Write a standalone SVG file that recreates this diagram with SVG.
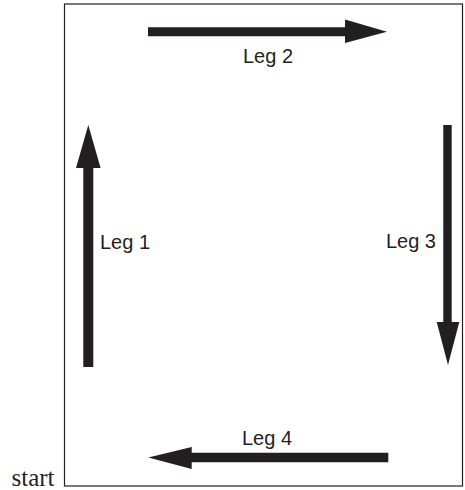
<svg xmlns="http://www.w3.org/2000/svg" width="465" height="490" viewBox="0 0 465 490">
<style>
.arrow{fill:#231f20}
.lbl{font-family:"Liberation Sans",Arial,sans-serif;font-size:20px;fill:#231f20}
.start{font-family:"Liberation Serif","DejaVu Serif","Times New Roman",serif;font-size:25px;fill:#231f20}
</style>
<rect x="0" y="0" width="465" height="490" fill="#fff"/>
<rect id="field" x="64.5" y="4" width="398" height="482" fill="none" stroke="#231f20" stroke-width="1.2"/>
<g id="connectors">
<g id="leg1"><polygon class="arrow" points="83.3,367 83.3,168 76,168 88.3,125 100.6,168 93.3,168 93.3,367"/></g>
<g id="leg2"><polygon class="arrow" points="148,27.3 345,27.3 345,19.5 387,31.7 345,43 345,36.2 148,36.2"/></g>
<g id="leg3"><polygon class="arrow" points="443.3,125 451.7,125 451.7,322 459.3,322 448,365 436.7,322 443.3,322"/></g>
<g id="leg4"><polygon class="arrow" points="388.3,452.7 388.3,462.3 191.7,462.3 191.7,469 148.3,457.5 191.7,447 191.7,452.7"/></g>
</g>
<g id="label-leg1"><text class="lbl" x="100" y="249">Leg 1</text></g>
<g id="label-leg2"><text class="lbl" x="268" y="63" text-anchor="middle">Leg 2</text></g>
<g id="label-leg3"><text class="lbl" x="436" y="248" text-anchor="end">Leg 3</text></g>
<g id="label-leg4"><text class="lbl" x="267" y="445" text-anchor="middle">Leg 4</text></g>
<g id="start"><text class="start" x="11.5" y="486">start</text></g>
</svg>
